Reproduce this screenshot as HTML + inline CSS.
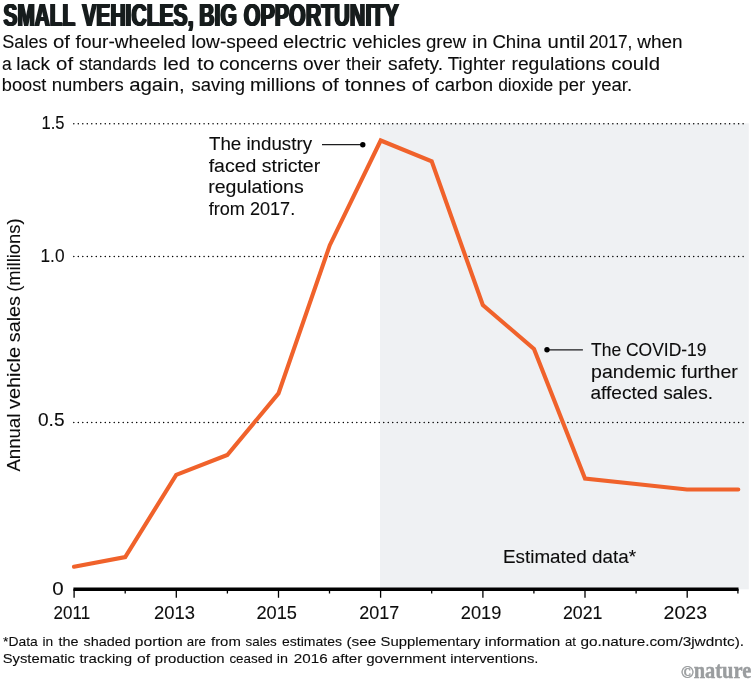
<!DOCTYPE html>
<html lang="en">
<head>
<meta charset="utf-8">
<title>Small vehicles, big opportunity</title>
<style>
html,body{margin:0;padding:0;background:#fff;}
body{width:751px;height:680px;overflow:hidden;position:relative;font-family:"Liberation Sans",sans-serif;}
svg{display:block;position:absolute;left:0;top:0;}
text{font-family:"Liberation Sans",sans-serif;fill:#0c0c0c;stroke:#0c0c0c;stroke-width:0.1px;}
text.ttl{font-weight:bold;fill:#171b1e;stroke:none;}
text.nat{font-family:"Liberation Serif",serif;font-weight:bold;fill:#9a9d9f;stroke:#9a9d9f;stroke-width:0.45px;}
</style>
</head>
<body>
<svg width="751" height="680" viewBox="0 0 751 680">
  <rect x="0" y="0" width="751" height="680" fill="#ffffff"/>

  <!-- heading -->
  <defs>
    <filter id="heavy" x="-2%" y="-20%" width="104%" height="140%">
      <feOffset in="SourceGraphic" dx="-0.8" dy="0" result="a"/>
      <feOffset in="SourceGraphic" dx="0.8" dy="0" result="b"/>
      <feOffset in="SourceGraphic" dx="-0.4" dy="0" result="c"/>
      <feOffset in="SourceGraphic" dx="0.4" dy="0" result="d"/>
      <feMerge><feMergeNode in="a"/><feMergeNode in="b"/><feMergeNode in="c"/><feMergeNode in="d"/><feMergeNode in="SourceGraphic"/></feMerge>
    </filter>
  </defs>
  <text class="ttl" y="26.35" font-size="31.6" filter="url(#heavy)"><tspan x="3.6" textLength="71.2" lengthAdjust="spacingAndGlyphs">SMALL</tspan> <tspan x="82.3" textLength="111.2" lengthAdjust="spacingAndGlyphs">VEHICLES,</tspan> <tspan x="199.3" textLength="37.5" lengthAdjust="spacingAndGlyphs">BIG</tspan> <tspan x="243.7" textLength="155.1" lengthAdjust="spacingAndGlyphs">OPPORTUNITY</tspan></text>
  <text y="48.0" font-size="18.7"><tspan x="2.28" textLength="45.35" lengthAdjust="spacingAndGlyphs">Sales</tspan> <tspan x="52.91" textLength="16.99" lengthAdjust="spacingAndGlyphs">of</tspan> <tspan x="75.60" textLength="110.16" lengthAdjust="spacingAndGlyphs">four-wheeled</tspan> <tspan x="191.28" textLength="86.93" lengthAdjust="spacingAndGlyphs">low-speed</tspan> <tspan x="282.93" textLength="63.38" lengthAdjust="spacingAndGlyphs">electric</tspan> <tspan x="352.40" textLength="68.60" lengthAdjust="spacingAndGlyphs">vehicles</tspan> <tspan x="425.92" textLength="40.28" lengthAdjust="spacingAndGlyphs">grew</tspan> <tspan x="472.39" textLength="15.01" lengthAdjust="spacingAndGlyphs">in</tspan> <tspan x="492.42" textLength="48.69" lengthAdjust="spacingAndGlyphs">China</tspan> <tspan x="547.62" textLength="37.37" lengthAdjust="spacingAndGlyphs">until</tspan> <tspan x="588.96" textLength="43.49" lengthAdjust="spacingAndGlyphs">2017,</tspan> <tspan x="637.24" textLength="45.44" lengthAdjust="spacingAndGlyphs">when</tspan></text>
  <text y="69.7" font-size="18.7"><tspan x="1.94" textLength="9.67" lengthAdjust="spacingAndGlyphs">a</tspan> <tspan x="16.28" textLength="33.62" lengthAdjust="spacingAndGlyphs">lack</tspan> <tspan x="56.09" textLength="16.99" lengthAdjust="spacingAndGlyphs">of</tspan> <tspan x="78.89" textLength="77.33" lengthAdjust="spacingAndGlyphs">standards</tspan> <tspan x="162.95" textLength="27.18" lengthAdjust="spacingAndGlyphs">led</tspan> <tspan x="197.27" textLength="16.99" lengthAdjust="spacingAndGlyphs">to</tspan> <tspan x="219.29" textLength="78.37" lengthAdjust="spacingAndGlyphs">concerns</tspan> <tspan x="302.93" textLength="37.24" lengthAdjust="spacingAndGlyphs">over</tspan> <tspan x="345.95" textLength="35.47" lengthAdjust="spacingAndGlyphs">their</tspan> <tspan x="388.09" textLength="54.99" lengthAdjust="spacingAndGlyphs">safety.</tspan> <tspan x="447.65" textLength="57.48" lengthAdjust="spacingAndGlyphs">Tighter</tspan> <tspan x="511.47" textLength="94.14" lengthAdjust="spacingAndGlyphs">regulations</tspan> <tspan x="611.27" textLength="48.70" lengthAdjust="spacingAndGlyphs">could</tspan></text>
  <text y="91.3" font-size="18.7"><tspan x="1.82" textLength="44.46" lengthAdjust="spacingAndGlyphs">boost</tspan> <tspan x="51.81" textLength="71.83" lengthAdjust="spacingAndGlyphs">numbers</tspan> <tspan x="129.15" textLength="55.50" lengthAdjust="spacingAndGlyphs">again,</tspan> <tspan x="191.54" textLength="53.42" lengthAdjust="spacingAndGlyphs">saving</tspan> <tspan x="250.04" textLength="65.67" lengthAdjust="spacingAndGlyphs">millions</tspan> <tspan x="321.69" textLength="16.99" lengthAdjust="spacingAndGlyphs">of</tspan> <tspan x="344.71" textLength="61.16" lengthAdjust="spacingAndGlyphs">tonnes</tspan> <tspan x="411.83" textLength="16.99" lengthAdjust="spacingAndGlyphs">of</tspan> <tspan x="434.93" textLength="58.18" lengthAdjust="spacingAndGlyphs">carbon</tspan> <tspan x="498.20" textLength="55.07" lengthAdjust="spacingAndGlyphs">dioxide</tspan> <tspan x="558.41" textLength="26.71" lengthAdjust="spacingAndGlyphs">per</tspan> <tspan x="591.90" textLength="40.19" lengthAdjust="spacingAndGlyphs">year.</tspan></text>

  <!-- shaded estimate region -->
  <rect x="380" y="123.3" width="368.8" height="466" fill="#eff1f3"/>

  <!-- dotted gridlines -->
  <g stroke="#000" stroke-width="1.5" stroke-linecap="round" stroke-dasharray="0.01 4.482" fill="none">
    <line x1="73.8" y1="123.7" x2="744" y2="123.7"/>
    <line x1="73.8" y1="256.6" x2="744" y2="256.6"/>
    <line x1="73.8" y1="422.6" x2="744" y2="422.6"/>
  </g>

  <!-- y axis labels -->
  <text x="41.5" y="128.6" font-size="18.5" textLength="23" lengthAdjust="spacingAndGlyphs">1.5</text>
  <text x="40.5" y="261.8" font-size="18.5" textLength="24" lengthAdjust="spacingAndGlyphs">1.0</text>
  <text x="38" y="426" font-size="18.5" textLength="26.5" lengthAdjust="spacingAndGlyphs">0.5</text>
  <text x="52.3" y="594.8" font-size="18.5" textLength="11.4" lengthAdjust="spacingAndGlyphs">0</text>
  <text transform="translate(20.1 472.5) rotate(-90)" y="0" font-size="18.6"><tspan x="0.9" textLength="57.9" lengthAdjust="spacingAndGlyphs">Annual</tspan> <tspan x="63.5" textLength="61.99" lengthAdjust="spacingAndGlyphs">vehicle</tspan> <tspan x="130.3" textLength="46.12" lengthAdjust="spacingAndGlyphs">sales</tspan> <tspan x="180.63" textLength="73.38" lengthAdjust="spacingAndGlyphs">(millions)</tspan></text>

  <!-- x axis -->
  <g stroke="#000" fill="none">
    <path stroke-width="1.3" d="M74.1 589V597.8M176.3 589V597.8M278.5 589V597.8M380.6 589V597.8M482.9 589V597.8M585 589V597.8M687.2 589V597.8"/>
    <path stroke-width="1.3" d="M125.2 589V593.6M227.4 589V593.6M329.5 589V593.6M431.7 589V593.6M533.9 589V593.6M636.1 589V593.6M737.9 589V593.6"/>
    <line x1="73.4" y1="589.2" x2="738.5" y2="589.2" stroke-width="3.6"/>
  </g>
  <g font-size="18.5">
    <text x="53.6" y="618.8" textLength="36.5" lengthAdjust="spacingAndGlyphs">2011</text>
    <text x="154" y="618.8" textLength="41" lengthAdjust="spacingAndGlyphs">2013</text>
    <text x="256.5" y="618.8" textLength="40.5" lengthAdjust="spacingAndGlyphs">2015</text>
    <text x="359.2" y="618.8" textLength="40" lengthAdjust="spacingAndGlyphs">2017</text>
    <text x="460.8" y="618.8" textLength="40.5" lengthAdjust="spacingAndGlyphs">2019</text>
    <text x="563" y="618.8" textLength="39.5" lengthAdjust="spacingAndGlyphs">2021</text>
    <text x="663.6" y="618.8" textLength="43.5" lengthAdjust="spacingAndGlyphs">2023</text>
  </g>

  <!-- data line -->
  <polyline fill="none" stroke="#f0622b" stroke-width="4.1" stroke-linecap="round" stroke-linejoin="miter"
    points="74,566.8 125.2,557.1 176.2,474.8 227.3,455 278.5,393.4 329.8,245.2 380.7,140.5 431.7,161.4 482.8,305 534,349 585,478.6 636.1,484 687,489.5 738.3,489.5"/>

  <!-- annotations -->
  <g stroke="#1d1d1f" stroke-width="1.2">
    <line x1="322" y1="144.7" x2="362.8" y2="144.7"/>
    <line x1="547" y1="349.8" x2="582.9" y2="349.8"/>
  </g>
  <circle cx="362.8" cy="144.7" r="2.7" fill="#000"/>
  <circle cx="547" cy="349.8" r="2.7" fill="#000"/>

  <g font-size="18.2">
    <text x="209" y="150.3" textLength="103" lengthAdjust="spacingAndGlyphs">The industry</text>
    <text x="208.7" y="171.9" textLength="111.5" lengthAdjust="spacingAndGlyphs">faced stricter</text>
    <text x="208.2" y="193.2" textLength="95.5" lengthAdjust="spacingAndGlyphs">regulations</text>
    <text x="208.7" y="214.75" textLength="86.5" lengthAdjust="spacingAndGlyphs">from 2017.</text>

    <text x="591" y="355.6" textLength="115.5" lengthAdjust="spacingAndGlyphs">The COVID-19</text>
    <text x="591" y="377.7" textLength="146.8" lengthAdjust="spacingAndGlyphs">pandemic further</text>
    <text x="590.5" y="399.2" textLength="122.5" lengthAdjust="spacingAndGlyphs">affected sales.</text>

    <text x="503" y="562.7" textLength="133" lengthAdjust="spacingAndGlyphs">Estimated data*</text>
  </g>

  <!-- footnote -->
  <text y="646.3" font-size="13.5"><tspan x="2.99" textLength="34.76" lengthAdjust="spacingAndGlyphs">*Data</tspan> <tspan x="42.44" textLength="10.73" lengthAdjust="spacingAndGlyphs">in</tspan> <tspan x="58.40" textLength="20.04" lengthAdjust="spacingAndGlyphs">the</tspan> <tspan x="83.44" textLength="47.30" lengthAdjust="spacingAndGlyphs">shaded</tspan> <tspan x="134.82" textLength="47.88" lengthAdjust="spacingAndGlyphs">portion</tspan> <tspan x="186.83" textLength="19.09" lengthAdjust="spacingAndGlyphs">are</tspan> <tspan x="211.00" textLength="29.79" lengthAdjust="spacingAndGlyphs">from</tspan> <tspan x="245.58" textLength="31.19" lengthAdjust="spacingAndGlyphs">sales</tspan> <tspan x="282.04" textLength="60.01" lengthAdjust="spacingAndGlyphs">estimates</tspan> <tspan x="346.48" textLength="29.85" lengthAdjust="spacingAndGlyphs">(see</tspan> <tspan x="380.59" textLength="99.74" lengthAdjust="spacingAndGlyphs">Supplementary</tspan> <tspan x="484.74" textLength="75.59" lengthAdjust="spacingAndGlyphs">information</tspan> <tspan x="564.94" textLength="10.92" lengthAdjust="spacingAndGlyphs">at</tspan> <tspan x="580.40" textLength="163.61" lengthAdjust="spacingAndGlyphs">go.nature.com/3jwdntc).</tspan></text>
  <text y="663.0" font-size="13.5"><tspan x="2.74" textLength="72.24" lengthAdjust="spacingAndGlyphs">Systematic</tspan> <tspan x="79.45" textLength="52.57" lengthAdjust="spacingAndGlyphs">tracking</tspan> <tspan x="136.95" textLength="13.06" lengthAdjust="spacingAndGlyphs">of</tspan> <tspan x="154.83" textLength="69.84" lengthAdjust="spacingAndGlyphs">production</tspan> <tspan x="229.39" textLength="43.27" lengthAdjust="spacingAndGlyphs">ceased</tspan> <tspan x="276.78" textLength="11.19" lengthAdjust="spacingAndGlyphs">in</tspan> <tspan x="293.78" textLength="33.84" lengthAdjust="spacingAndGlyphs">2016</tspan> <tspan x="331.87" textLength="30.49" lengthAdjust="spacingAndGlyphs">after</tspan> <tspan x="366.19" textLength="79.73" lengthAdjust="spacingAndGlyphs">government</tspan> <tspan x="450.33" textLength="88.09" lengthAdjust="spacingAndGlyphs">interventions.</tspan></text>

  <!-- credit -->
  <text class="nat" x="681.1" y="678.1" font-size="17" textLength="12.8" lengthAdjust="spacingAndGlyphs">©</text>
  <text class="nat" x="693.7" y="677.8" font-size="23.5" textLength="57.6" lengthAdjust="spacingAndGlyphs">nature</text>
</svg>
</body>
</html>
